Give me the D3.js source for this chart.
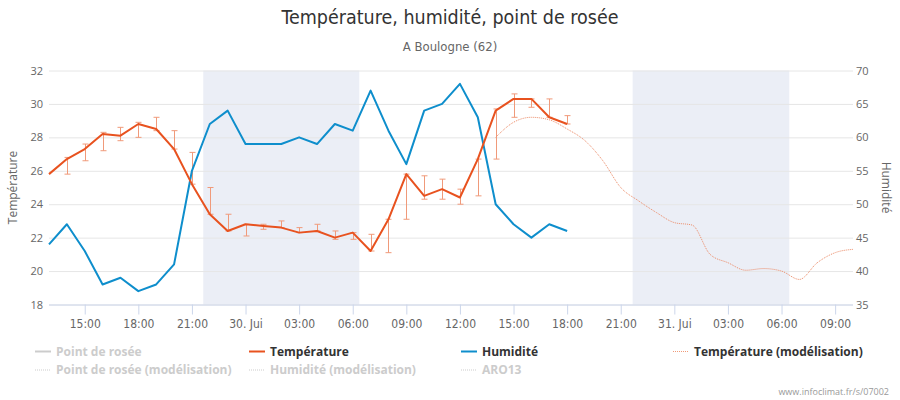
<!DOCTYPE html>
<html>
<head>
<meta charset="utf-8">
<script src="https://cdn.jsdelivr.net/npm/d3@7"></script>
<style>
  html, body { margin: 0; padding: 0; background: #fff; }
  svg { display: block; }
</style>
</head>
<body>
<svg id="chart" width="900" height="400"></svg>
<script>
// ---------------- DATA ----------------
const obsTimes = [
  "2020-07-29T13:00", "2020-07-29T14:00", "2020-07-29T15:00", "2020-07-29T16:00", "2020-07-29T17:00",
  "2020-07-29T18:00", "2020-07-29T19:00", "2020-07-29T20:00", "2020-07-29T21:00", "2020-07-29T22:00",
  "2020-07-29T23:00", "2020-07-30T00:00", "2020-07-30T01:00", "2020-07-30T02:00", "2020-07-30T03:00",
  "2020-07-30T04:00", "2020-07-30T05:00", "2020-07-30T06:00", "2020-07-30T07:00", "2020-07-30T08:00",
  "2020-07-30T09:00", "2020-07-30T10:00", "2020-07-30T11:00", "2020-07-30T12:00", "2020-07-30T13:00",
  "2020-07-30T14:00", "2020-07-30T15:00", "2020-07-30T16:00", "2020-07-30T17:00", "2020-07-30T18:00"
];
const temperature = [
  25.8, 26.7, 27.3, 28.2, 28.1, 28.8, 28.5, 27.3, 25.2, 23.4,
  22.4, 22.8, 22.7, 22.6, 22.3, 22.4, 22.0, 22.3, 21.2, 23.1,
  25.8, 24.5, 24.9, 24.4, 26.7, 29.6, 30.3, 30.3, 29.2, 28.8
];
// hourly min / max (error bars); null = none
const tempLow = [
  null, 25.8, 26.6, 27.2, 27.8, 28.0, 28.4, 27.3, 25.2, 23.4,
  22.4, 22.1, 22.5, 22.6, 22.3, 22.4, 21.9, 21.9, 21.2, 21.1,
  23.1, 24.3, 24.3, 24.0, 24.5, 26.7, 29.2, 29.8, 29.2, 28.8
];
const tempHigh = [
  null, 26.8, 27.6, 28.3, 28.6, 28.9, 29.2, 28.4, 27.1, 25.0,
  23.4, 22.8, 22.8, 23.0, 22.6, 22.8, 22.4, 22.3, 22.2, 23.1,
  25.8, 25.7, 25.5, 24.9, 26.7, 29.7, 30.6, 30.3, 30.3, 29.3
];
const humidity = [
  44, 47, 43, 38, 39, 37, 38, 41, 55, 62,
  64, 59, 59, 59, 60, 59, 62, 61, 67, 61,
  56, 64, 65, 68, 63, 50, 47, 45, 47, 46
];
const modelTimes = [
  "2020-07-30T14:00", "2020-07-30T15:00", "2020-07-30T16:00", "2020-07-30T17:00", "2020-07-30T18:00",
  "2020-07-30T19:00", "2020-07-30T20:00", "2020-07-30T21:00", "2020-07-30T22:00", "2020-07-30T23:00",
  "2020-07-31T00:00", "2020-07-31T01:00", "2020-07-31T02:00", "2020-07-31T03:00", "2020-07-31T04:00",
  "2020-07-31T05:00", "2020-07-31T06:00", "2020-07-31T07:00", "2020-07-31T08:00", "2020-07-31T09:00",
  "2020-07-31T10:00"
];
const modelTemperature = [
  28.0, 28.9, 29.2, 29.05, 28.5,
  27.8, 26.6, 25.0, 24.2, 23.5,
  22.9, 22.75, 21.0, 20.5, 20.05,
  20.15, 20.0, 19.5, 20.5, 21.1,
  21.3
];
const nightBands = [
  ["2020-07-29T21:38", "2020-07-30T06:22"],
  ["2020-07-30T21:40", "2020-07-31T06:26"]
];
const xDomain = ["2020-07-29T13:00", "2020-07-31T10:00"];
const xTickTimes = [
  "2020-07-29T15:00", "2020-07-29T18:00", "2020-07-29T21:00", "2020-07-30T00:00", "2020-07-30T03:00",
  "2020-07-30T06:00", "2020-07-30T09:00", "2020-07-30T12:00", "2020-07-30T15:00", "2020-07-30T18:00",
  "2020-07-30T21:00", "2020-07-31T00:00", "2020-07-31T03:00", "2020-07-31T06:00", "2020-07-31T09:00"
];
const xTickLabels = [
  "15:00", "18:00", "21:00", "30. Jui", "03:00", "06:00", "09:00", "12:00", "15:00", "18:00",
  "21:00", "31. Jui", "03:00", "06:00", "09:00"
];
const tempTicks = [18, 20, 22, 24, 26, 28, 30, 32];
const humTicks = [35, 40, 45, 50, 55, 60, 65, 70];
const legendItems = [
  { name: "Point de rosée", visible: false, dotted: false, color: "#cccccc" },
  { name: "Température", visible: true, dotted: false, color: "#e8521f" },
  { name: "Humidité", visible: true, dotted: false, color: "#0e8ecc" },
  { name: "Température (modélisation)", visible: true, dotted: true, color: "#f09a78" },
  { name: "Point de rosée (modélisation)", visible: false, dotted: true, color: "#cccccc" },
  { name: "Humidité (modélisation)", visible: false, dotted: true, color: "#cccccc" },
  { name: "ARO13", visible: false, dotted: true, color: "#cccccc" }
];
const titleText = "Température, humidité, point de rosée";
const subtitleText = "A Boulogne (62)";
const creditText = "www.infoclimat.fr/s/07002";

// ---------------- CHART ----------------
const W = 900, H = 400;
const plot = { left: 49, right: 853, top: 70.5, bottom: 304.5 };
const parse = d3.timeParse("%Y-%m-%dT%H:%M");
const FONT = "'Open Sans', 'Liberation Sans', sans-serif";
const COND = "'Liberation Sans Narrow', 'DejaVu Sans Condensed', 'Open Sans', sans-serif";

const svg = d3.select("#chart");

const x = d3.scaleTime().domain(xDomain.map(parse)).range([plot.left, plot.right]);
const yT = d3.scaleLinear().domain([18, 32]).range([plot.bottom, plot.top]);
const yH = d3.scaleLinear().domain([35, 70]).range([plot.bottom, plot.top]);

// plot bands
svg.append("g").selectAll("rect").data(nightBands).join("rect")
  .attr("x", d => x(parse(d[0])))
  .attr("width", d => x(parse(d[1])) - x(parse(d[0])))
  .attr("y", plot.top)
  .attr("height", plot.bottom - plot.top)
  .attr("fill", "#ebeef6");

// gridlines (left axis ticks)
const gridAxis = d3.axisLeft(yT).tickValues(tempTicks).tickSize(-(plot.right - plot.left)).tickFormat("");
const gGrid = svg.append("g").attr("transform", `translate(${plot.left},0)`).call(gridAxis);
gGrid.select(".domain").remove();
gGrid.selectAll("line").attr("stroke", "#e6e6e6").attr("stroke-width", 1);

// left axis labels
const leftAxis = d3.axisLeft(yT).tickValues(tempTicks).tickSize(0).tickPadding(6).tickFormat(d3.format("d"));
const gL = svg.append("g").attr("transform", `translate(${plot.left},0)`).call(leftAxis);
gL.select(".domain").remove();
gL.selectAll("text").attr("font-family", FONT).attr("font-size", 11).attr("fill", "#666");

// right axis labels
const rightAxis = d3.axisRight(yH).tickValues(humTicks).tickSize(0).tickPadding(3).tickFormat(d3.format("d"));
const gR = svg.append("g").attr("transform", `translate(${plot.right},0)`).call(rightAxis);
gR.select(".domain").remove();
gR.selectAll("text").attr("font-family", FONT).attr("font-size", 11).attr("fill", "#666");

// x axis
const xAxis = d3.axisBottom(x).tickValues(xTickTimes.map(parse)).tickSize(10).tickPadding(5)
  .tickFormat((d, i) => xTickLabels[i]);
const gX = svg.append("g").attr("transform", `translate(0,${plot.bottom})`).call(xAxis);
gX.select(".domain").attr("stroke", "#ccd6eb").attr("d", `M${plot.left},0.5H${plot.right}`);
gX.selectAll(".tick line").attr("stroke", "#ccd6eb");
gX.selectAll("text").attr("font-family", COND).attr("font-size", 12).attr("fill", "#666");

// axis titles
svg.append("text").attr("transform", `translate(17,${(plot.top + plot.bottom) / 2}) rotate(-90)`)
  .attr("text-anchor", "middle").attr("font-family", FONT).attr("font-size", 12).attr("fill", "#666")
  .text("Température");
svg.append("text").attr("transform", `translate(882,${(plot.top + plot.bottom) / 2}) rotate(90)`)
  .attr("text-anchor", "middle").attr("font-family", FONT).attr("font-size", 12).attr("fill", "#666")
  .text("Humidité");

// error bars
const obs = obsTimes.map((t, i) => ({ t: parse(t), v: temperature[i], lo: tempLow[i], hi: tempHigh[i], h: humidity[i] }));
const eb = svg.append("g").attr("stroke", "#f09a7a").attr("stroke-width", 1).attr("fill", "none");
obs.filter(d => d.lo != null).forEach(d => {
  const cx = Math.round(x(d.t)) + 0.5;
  eb.append("path").attr("d",
    `M${cx},${yT(d.hi)}V${yT(d.lo)}M${cx - 3},${yT(d.hi)}H${cx + 3}M${cx - 3},${yT(d.lo)}H${cx + 3}`);
});

// humidity line
svg.append("path").datum(obs)
  .attr("d", d3.line().x(d => x(d.t)).y(d => yH(d.h)))
  .attr("fill", "none").attr("stroke", "#0e8ecc").attr("stroke-width", 2).attr("stroke-linejoin", "round");

// temperature line
svg.append("path").datum(obs)
  .attr("d", d3.line().x(d => x(d.t)).y(d => yT(d.v)))
  .attr("fill", "none").attr("stroke", "#e8521f").attr("stroke-width", 2).attr("stroke-linejoin", "round");

// model temperature
const model = modelTimes.map((t, i) => ({ t: parse(t), v: modelTemperature[i] }));
svg.append("path").datum(model)
  .attr("d", d3.line().curve(d3.curveMonotoneX).x(d => x(d.t)).y(d => yT(d.v)))
  .attr("fill", "none").attr("stroke", "#ec8a66").attr("stroke-width", 1).attr("stroke-dasharray", "1,1");

// title / subtitle
svg.append("text").attr("x", W / 2).attr("y", 24).attr("text-anchor", "middle")
  .attr("font-family", COND).attr("font-size", 19.5).attr("fill", "#333").text(titleText);
svg.append("text").attr("x", W / 2).attr("y", 51).attr("text-anchor", "middle")
  .attr("font-family", COND).attr("font-size", 13).attr("fill", "#666").text(subtitleText);

// legend
const legendPos = [[35, 351], [249, 351], [461, 351], [673, 351], [35, 369.5], [249, 369.5], [461, 369.5]];
const gLeg = svg.append("g");
legendItems.forEach((it, i) => {
  const [lx, ly] = legendPos[i];
  const g = gLeg.append("g").attr("transform", `translate(${lx},${ly})`);
  g.append("path").attr("d", "M0,0.5H16")
    .attr("stroke", it.color).attr("stroke-width", it.dotted ? 1 : 2)
    .attr("stroke-dasharray", it.dotted ? "1,1" : null);
  g.append("text").attr("x", 21).attr("y", 4.5)
    .attr("font-family", FONT).attr("font-size", 12).attr("font-weight", "bold")
    .attr("fill", it.visible ? "#333" : "#cccccc").text(it.name);
});

// credits
svg.append("text").attr("x", 889).attr("y", 395).attr("text-anchor", "end")
  .attr("font-family", FONT).attr("font-size", 9).attr("fill", "#999").text(creditText);
</script>
</body>
</html>
